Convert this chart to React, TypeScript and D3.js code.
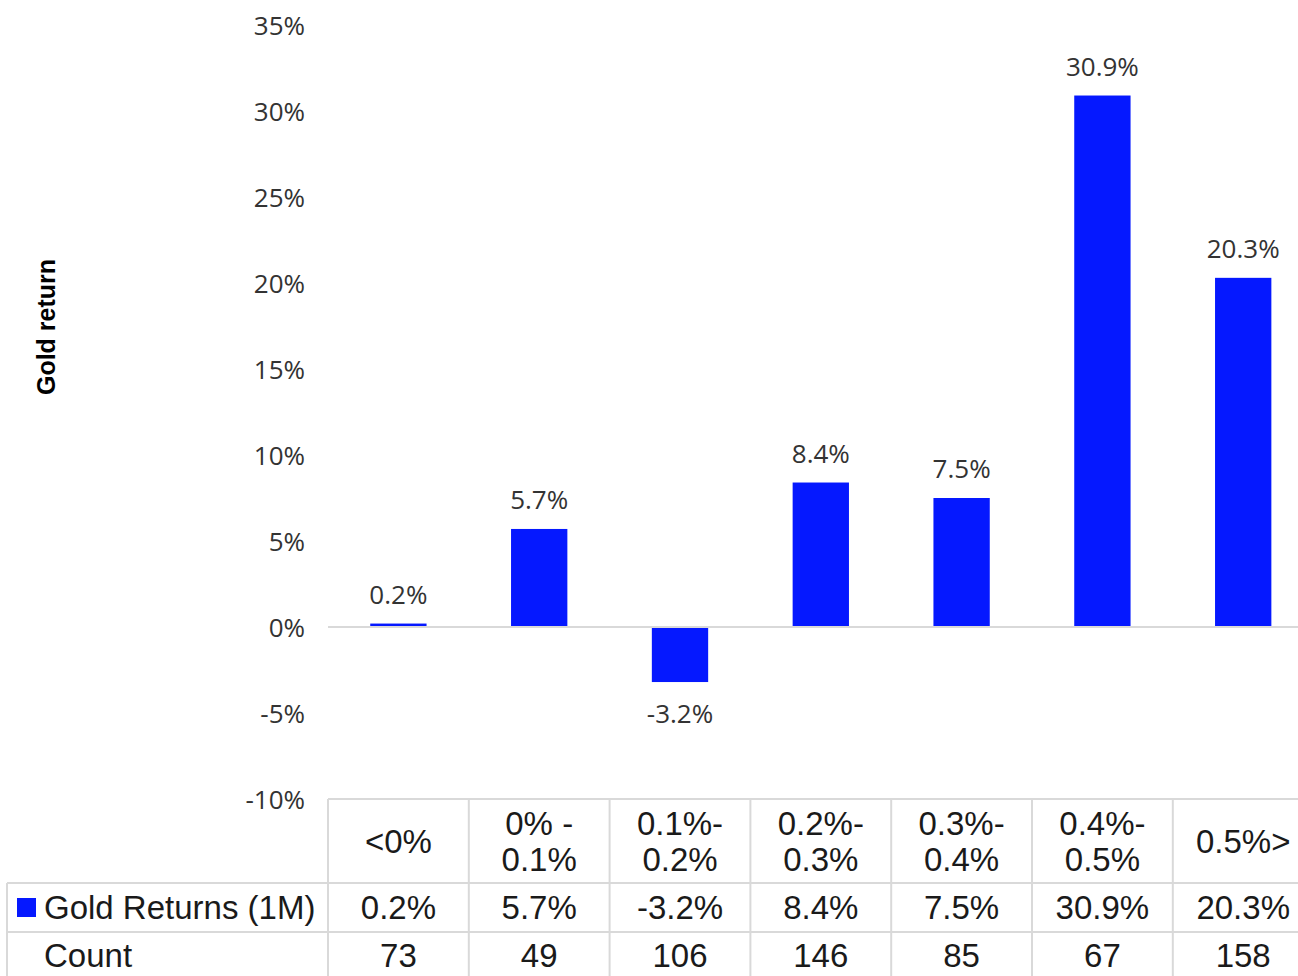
import React from "react";
import * as d3 from "d3";

const categories = ["<0%", "0% -\n0.1%", "0.1%-\n0.2%", "0.2%-\n0.3%", "0.3%-\n0.4%", "0.4%-\n0.5%", "0.5%>"];
const goldReturns = [0.2, 5.7, -3.2, 8.4, 7.5, 30.9, 20.3];
const counts = [73, 49, 106, 146, 85, 67, 158];
const yTicks = [-10, -5, 0, 5, 10, 15, 20, 25, 30, 35];
const seriesName = "Gold Returns (1M)";
const countLabel = "Count";
const yTitle = "Gold return";

const W = 1298;
const H = 976;
const plotLeft = 328;
const colW = 140.8;
const barColor = "#0518ff";
const gridColor = "#d9d9d9";
const labelFont = "'Open Sans', 'Noto Sans', sans-serif";
const tableFont = "'Liberation Sans', Arial, sans-serif";

export default function App() {
  const x = d3
    .scaleBand<string>()
    .domain(categories)
    .range([plotLeft, plotLeft + colW * categories.length])
    .padding(0);
  const y = d3.scaleLinear().domain([-10, 35]).range([799, 25]);
  const bw = x.bandwidth();
  const barW = bw * 0.4;

  const tableTop = y(-10);
  const row1 = 883;
  const row2 = 932;
  const tableBottom = 990;
  const tableLeft = 7;

  return (
    <svg
      width={W}
      height={H}
      style={{ position: "absolute", left: 0, top: 0, background: "#fff" }}
    >
      {/* y title */}
      <text
        transform={`translate(46, 327) rotate(-90)`}
        textAnchor="middle"
        dominantBaseline="central"
        fontFamily={tableFont}
        fontWeight="bold"
        fontSize={25}
        fill="#000"
      >
        {yTitle}
      </text>

      {/* y ticks */}
      {yTicks.map((t) => (
        <text
          key={t}
          x={305}
          y={y(t)}
          textAnchor="end"
          dominantBaseline="central"
          fontFamily={labelFont}
          fontSize={26}
          fill="#333"
        >
          {`${t}%`}
        </text>
      ))}

      {/* bars */}
      {categories.map((c, i) => {
        const v = goldReturns[i];
        const cx = (x(c) as number) + bw / 2;
        const top = Math.min(y(v), y(0));
        const h = Math.abs(y(v) - y(0));
        return (
          <g key={c}>
            <rect x={cx - barW / 2} y={top} width={barW} height={Math.max(h, 2.5)} fill={barColor} />
            <text
              x={cx}
              y={v >= 0 ? y(v) - 30 : y(v) + 31}
              textAnchor="middle"
              dominantBaseline="central"
              fontFamily={labelFont}
              fontSize={26}
              fill="#333"
            >
              {`${v.toFixed(1)}%`}
            </text>
          </g>
        );
      })}

      {/* zero line */}
      <line x1={plotLeft} x2={W} y1={y(0)} y2={y(0)} stroke={gridColor} strokeWidth={2} />

      {/* table lines */}
      <g stroke={gridColor} strokeWidth={2}>
        <line x1={plotLeft} x2={W + 20} y1={tableTop} y2={tableTop} />
        <line x1={tableLeft} x2={W + 20} y1={row1} y2={row1} />
        <line x1={tableLeft} x2={W + 20} y1={row2} y2={row2} />
        <line x1={tableLeft} x2={tableLeft} y1={row1} y2={tableBottom} />
        {categories.map((c) => (
          <line key={c} x1={x(c) as number} x2={x(c) as number} y1={tableTop} y2={tableBottom} />
        ))}
      </g>

      {/* header row */}
      {categories.map((c) => {
        const lines = c.split("\n");
        const cx = (x(c) as number) + bw / 2;
        const mid = (tableTop + row1) / 2;
        return (
          <text
            key={c}
            textAnchor="middle"
            fontFamily={tableFont}
            fontSize={33}
            fill="#1a1a1a"
          >
            {lines.map((l, k) => (
              <tspan
                key={k}
                x={cx}
                y={mid + (k - (lines.length - 1) / 2) * 36}
                dominantBaseline="central"
              >
                {l}
              </tspan>
            ))}
          </text>
        );
      })}

      {/* series row */}
      <rect x={17} y={898} width={19} height={19} fill={barColor} />
      <text x={44} y={(row1 + row2) / 2} dominantBaseline="central" fontFamily={tableFont} fontSize={33} fill="#1a1a1a">
        {seriesName}
      </text>
      {categories.map((c, i) => (
        <text
          key={c}
          x={(x(c) as number) + bw / 2}
          y={(row1 + row2) / 2}
          textAnchor="middle"
          dominantBaseline="central"
          fontFamily={tableFont}
          fontSize={33}
          fill="#1a1a1a"
        >
          {`${goldReturns[i].toFixed(1)}%`}
        </text>
      ))}

      {/* count row */}
      <text x={44} y={955} dominantBaseline="central" fontFamily={tableFont} fontSize={33} fill="#1a1a1a">
        {countLabel}
      </text>
      {categories.map((c, i) => (
        <text
          key={c}
          x={(x(c) as number) + bw / 2}
          y={955}
          textAnchor="middle"
          dominantBaseline="central"
          fontFamily={tableFont}
          fontSize={33}
          fill="#1a1a1a"
        >
          {counts[i]}
        </text>
      ))}
    </svg>
  );
}
